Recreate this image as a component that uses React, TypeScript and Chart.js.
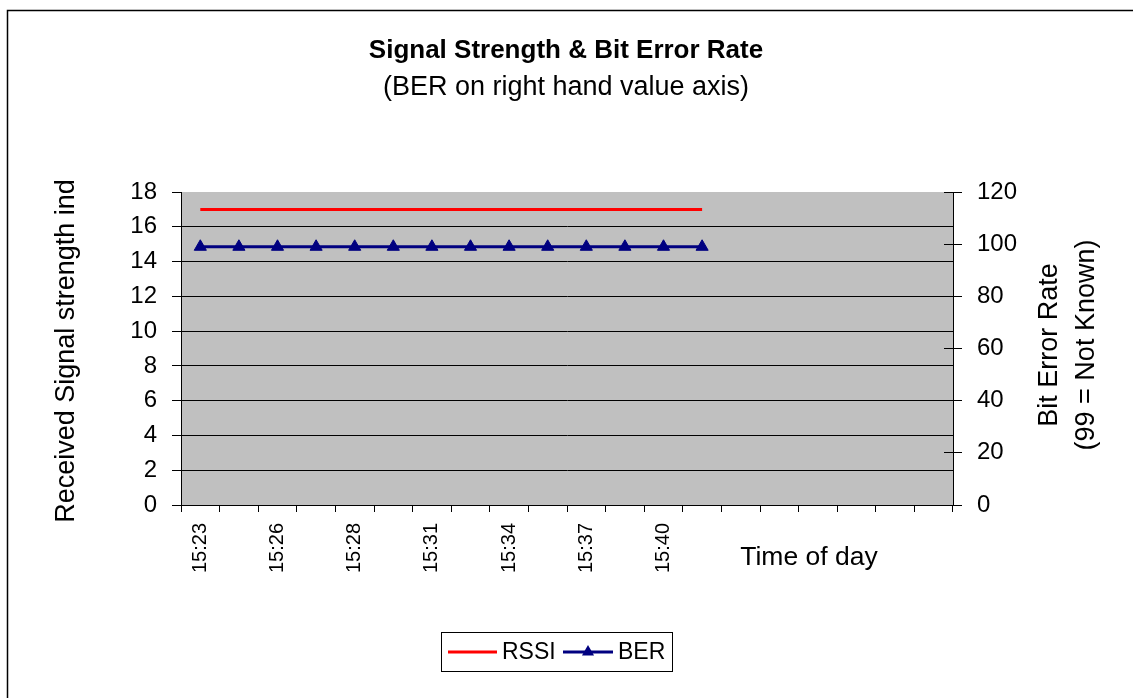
import React, { useEffect, useRef } from "react";
import { Chart, registerables } from "chart.js";

Chart.register(...registerables);

// Sampling times (one per category); the trailing slots are unused categories on the axis
const timeLabels: string[] = [
  "15:23", "15:24", "15:26", "15:27", "15:28", "15:30", "15:31",
  "15:33", "15:34", "15:35", "15:37", "15:38", "15:40", "15:41",
  "", "", "", "", "", "",
];

// Received signal strength indication (left axis)
const rssiValues: number[] = [17, 17, 17, 17, 17, 17, 17, 17, 17, 17, 17, 17, 17, 17];

// Bit error rate (right axis, 99 = not known)
const berValues: number[] = [99, 99, 99, 99, 99, 99, 99, 99, 99, 99, 99, 99, 99, 99];

const leftTicks = { min: 0, max: 18, step: 2 };
const rightTicks = { min: 0, max: 120, step: 20 };

const titleText = "Signal Strength & Bit Error Rate";
const subtitleText = "(BER on right hand value axis)";
const leftAxisTitle = "Received Signal strength ind";
const rightAxisTitle = ["Bit Error Rate", "(99 = Not Known)"];
const xAxisTitle = "Time of day";

const FONT = "'Liberation Sans', Arial, sans-serif";
const W = 1133;
const H = 698;

function triangle(ctx: CanvasRenderingContext2D, x: number, y: number, r: number) {
  const k = Math.sin((2 * Math.PI) / 3);
  ctx.beginPath();
  ctx.moveTo(x, y - r);
  ctx.lineTo(x + k * r, y + 0.5 * r);
  ctx.lineTo(x - k * r, y + 0.5 * r);
  ctx.closePath();
  ctx.fill();
}

const decorations = {
  id: "decorations",
  beforeDraw(chart: any) {
    const { ctx, chartArea } = chart;
    ctx.save();
    ctx.fillStyle = "#ffffff";
    ctx.fillRect(0, 0, W, H);
    // outer frame
    ctx.strokeStyle = "#000000";
    ctx.lineWidth = 1.5;
    ctx.beginPath();
    ctx.moveTo(7.5, H + 2);
    ctx.lineTo(7.5, 10.5);
    ctx.lineTo(W + 2, 10.5);
    ctx.stroke();
    // plot area
    ctx.fillStyle = "#c0c0c0";
    ctx.fillRect(chartArea.left, chartArea.top, chartArea.right - chartArea.left, chartArea.bottom - chartArea.top);
    ctx.restore();
  },
  afterDraw(chart: any) {
    const { ctx, chartArea } = chart;
    const y1 = chart.scales.y1;
    ctx.save();
    // inner half of the right axis tick marks
    ctx.strokeStyle = "#000000";
    ctx.lineWidth = 1;
    ctx.beginPath();
    for (let v = rightTicks.min; v <= rightTicks.max; v += rightTicks.step) {
      const py = Math.round(y1.getPixelForValue(v) - 0.5) + 0.5;
      ctx.moveTo(chartArea.right - 9, py);
      ctx.lineTo(chartArea.right, py);
    }
    ctx.stroke();

    ctx.fillStyle = "#000000";
    ctx.textAlign = "center";
    ctx.textBaseline = "middle";
    ctx.font = `bold 26px ${FONT}`;
    ctx.fillText(titleText, 566, 51);
    ctx.font = `27px ${FONT}`;
    ctx.fillText(subtitleText, 566, 88);

    // left axis title
    ctx.save();
    ctx.translate(67, 351);
    ctx.rotate(-Math.PI / 2);
    ctx.fillText(leftAxisTitle, 0, 0);
    ctx.restore();

    // right axis title
    ctx.save();
    ctx.translate(1050, 345);
    ctx.rotate(-Math.PI / 2);
    ctx.fillText(rightAxisTitle[0], 0, 0);
    ctx.fillText(rightAxisTitle[1], 0, 37);
    ctx.restore();

    // x axis title
    ctx.font = `26.5px ${FONT}`;
    ctx.fillText(xAxisTitle, 809, 558);

    // legend
    const ds = chart.data.datasets;
    ctx.strokeStyle = "#000000";
    ctx.lineWidth = 1;
    ctx.strokeRect(441.5, 632.5, 231, 39);
    const ly = 652;
    ctx.font = `23px ${FONT}`;
    ctx.textAlign = "left";
    // RSSI entry
    ctx.strokeStyle = ds[0].borderColor;
    ctx.lineWidth = 3;
    ctx.beginPath();
    ctx.moveTo(448, ly);
    ctx.lineTo(497, ly);
    ctx.stroke();
    ctx.fillStyle = "#000000";
    ctx.fillText(ds[0].label, 502, ly + 1);
    // BER entry
    ctx.strokeStyle = ds[1].borderColor;
    ctx.beginPath();
    ctx.moveTo(563, ly);
    ctx.lineTo(613, ly);
    ctx.stroke();
    ctx.fillStyle = ds[1].pointBackgroundColor;
    triangle(ctx, 588, ly, 7);
    ctx.fillStyle = "#000000";
    ctx.fillText(ds[1].label, 618, ly + 1);
    ctx.restore();
  },
};

export default function App() {
  const canvasRef = useRef<HTMLCanvasElement | null>(null);

  useEffect(() => {
    const canvas = canvasRef.current;
    if (!canvas) return;
    const chart = new Chart(canvas, {
      type: "line",
      data: {
        labels: timeLabels,
        datasets: [
          {
            label: "RSSI",
            data: rssiValues,
            yAxisID: "y",
            borderColor: "#ff0000",
            backgroundColor: "#ff0000",
            borderWidth: 3,
            pointRadius: 0,
            tension: 0,
          },
          {
            label: "BER",
            data: berValues,
            yAxisID: "y1",
            borderColor: "#000080",
            backgroundColor: "#000080",
            pointBackgroundColor: "#000080",
            pointBorderColor: "#000080",
            borderWidth: 3,
            pointStyle: "triangle",
            pointRadius: 7,
            pointBorderWidth: 1,
            tension: 0,
          },
        ],
      },
      options: {
        responsive: false,
        animation: false,
        devicePixelRatio: 1,
        layout: { padding: { top: 192, left: 0, right: 0, bottom: 0 } },
        plugins: {
          legend: { display: false },
          title: { display: false },
          tooltip: { enabled: false },
        },
        scales: {
          x: {
            type: "category",
            offset: true,
            grid: {
              offset: true,
              drawOnChartArea: false,
              drawTicks: true,
              tickLength: 7,
              color: "#000000",
            },
            border: { display: true, color: "#000000", width: 1 },
            ticks: {
              autoSkip: false,
              minRotation: 90,
              maxRotation: 90,
              padding: 11,
              color: "#000000",
              font: { family: FONT, size: 20 },
              callback: (_v: any, i: number) => (i % 2 === 0 ? timeLabels[i] : ""),
            },
            afterFit: (s: any) => {
              s.height = 193;
            },
          },
          y: {
            type: "linear",
            position: "left",
            min: leftTicks.min,
            max: leftTicks.max,
            grid: {
              color: (c: any) => (c.tick && c.tick.value === leftTicks.max ? "rgba(0,0,0,0)" : "#000000"),
              tickColor: "#000000",
              tickLength: 9,
              lineWidth: 1,
            },
            border: { display: true, color: "#000000", width: 1 },
            ticks: {
              stepSize: leftTicks.step,
              padding: 15,
              color: "#000000",
              font: { family: FONT, size: 24 },
            },
            afterFit: (s: any) => {
              s.width = 181;
            },
          },
          y1: {
            type: "linear",
            position: "right",
            min: rightTicks.min,
            max: rightTicks.max,
            grid: {
              drawOnChartArea: false,
              tickLength: 9,
              color: "#000000",
            },
            border: { display: true, color: "#000000", width: 1 },
            ticks: {
              stepSize: rightTicks.step,
              padding: 15,
              color: "#000000",
              font: { family: FONT, size: 24 },
            },
            afterFit: (s: any) => {
              s.width = W - 953;
            },
          },
        },
      },
      plugins: [decorations],
    });
    return () => chart.destroy();
  }, []);

  return (
    <div style={{ position: "absolute", left: 0, top: 0, width: W, height: H, overflow: "hidden" }}>
      <canvas ref={canvasRef} width={W} height={H} style={{ display: "block", width: W, height: H }} />
    </div>
  );
}
